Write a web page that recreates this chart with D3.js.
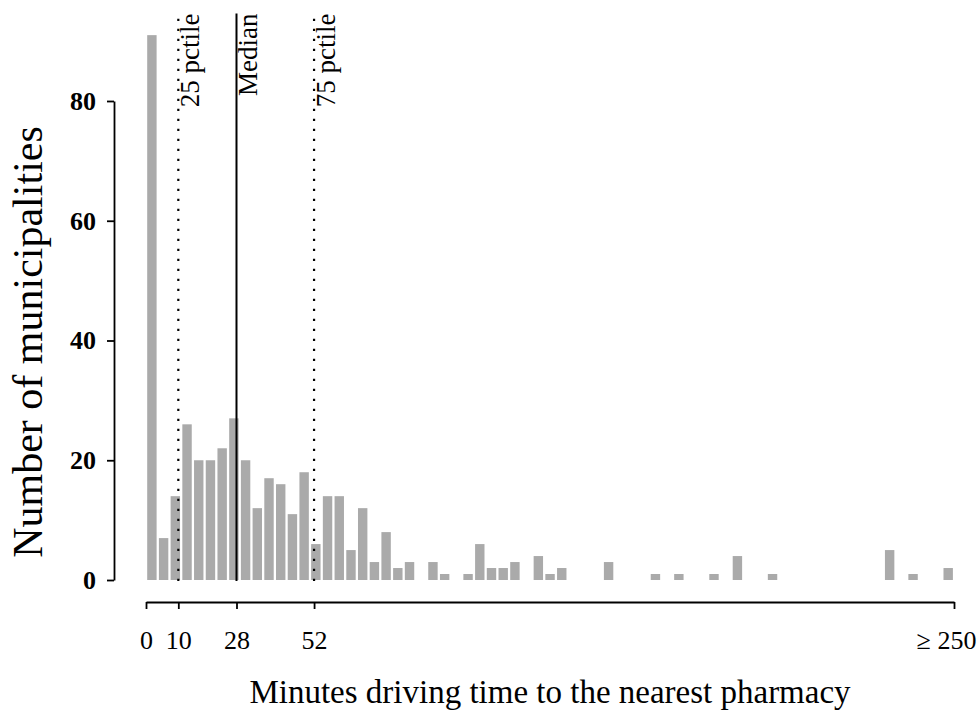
<!DOCTYPE html>
<html>
<head>
<meta charset="utf-8">
<script src="https://cdn.jsdelivr.net/npm/d3@7"></script>
<style>
  html, body { margin: 0; padding: 0; background: #fff; }
  svg { display: block; font-family: "Liberation Serif", "Times New Roman", serif; }
</style>
</head>
<body>
<svg id="chart" width="979" height="714"></svg>
<script>
// Histogram of driving time (minutes) to the nearest pharmacy, per municipality.
// 69 equal-width bins covering 0 to 250 minutes; the last bin collects everything >= 250.
const binCount = 69;
const counts = [
  91, 7, 14, 26, 20, 20, 22, 27, 20, 12,
  17, 16, 11, 18, 6, 14, 14, 5, 12, 3,
  8, 2, 3, 0, 3, 1, 0, 1, 6, 2,
  2, 3, 0, 4, 1, 2, 0, 0, 0, 3,
  0, 0, 0, 1, 0, 1, 0, 0, 1, 0,
  4, 0, 0, 1, 0, 0, 0, 0, 0, 0,
  0, 0, 0, 5, 0, 1, 0, 0, 2
];

// Distribution markers
const markerValues = [10, 28, 52];
const markerLabels = ["25 pctile", "Median", "75 pctile"];
const markerDashed = [true, false, true];

// Axis ticks
const xTickValues = [0, 10, 28, 52, 250];
const xTickLabels = ["0", "10", "28", "52", "\u2265 250"];
const yTickValues = [0, 20, 40, 60, 80];

const xTitle = "Minutes driving time to the nearest pharmacy";
const yTitle = "Number of municipalities";

const svg = d3.select("#chart");

const x = d3.scaleLinear().domain([0, 250]).range([146, 954]);
const y = d3.scaleLinear().domain([0, 80]).range([580, 101]);
const binWidth = 250 / binCount;
const plotTop = y(94.6);

// Bars
svg.append("g")
  .selectAll("rect")
  .data(counts)
  .join("rect")
  .attr("x", (d, i) => x(i * binWidth) + 1.2)
  .attr("width", x(binWidth) - x(0) - 2.3)
  .attr("y", d => y(d))
  .attr("height", d => y(0) - y(d))
  .attr("fill", "#aaaaaa");

// Percentile / median lines with rotated labels
const markers = svg.append("g");
markerValues.forEach((v, i) => {
  markers.append("line")
    .attr("x1", x(v)).attr("x2", x(v))
    .attr("y1", y(0) + 1).attr("y2", plotTop)
    .attr("stroke", "#000")
    .attr("stroke-width", markerDashed[i] ? 2.2 : 2)
    .attr("stroke-dasharray", markerDashed[i] ? "2.2,7.8" : null);
  markers.append("text")
    .attr("transform", `translate(${x(v) + 21},${plotTop}) rotate(-90)`)
    .attr("text-anchor", "end")
    .attr("font-size", 27)
    .text(markerLabels[i]);
});

// Y axis
const yAxis = svg.append("g")
  .attr("transform", "translate(114,0)")
  .call(d3.axisLeft(y).tickValues(yTickValues).tickSize(7).tickSizeOuter(0).tickPadding(11));
yAxis.selectAll("path, line").attr("stroke", "#000").attr("stroke-width", 1.8);
yAxis.selectAll("text")
  .attr("font-family", "Liberation Serif, serif")
  .attr("font-size", 26)
  .attr("font-weight", "bold")
  .attr("fill", "#000");

// X axis
const xAxis = svg.append("g")
  .attr("transform", "translate(0,602)")
  .call(d3.axisBottom(x).tickValues(xTickValues)
    .tickFormat((d, i) => xTickLabels[i])
    .tickSize(7).tickSizeOuter(0).tickPadding(22));
xAxis.selectAll("path, line").attr("stroke", "#000").attr("stroke-width", 1.8);
xAxis.selectAll("text")
  .attr("font-family", "Liberation Serif, serif")
  .attr("font-size", 26)
  .attr("fill", "#000")
  .attr("dx", (d, i) => i === xTickValues.length - 1 ? -8 : 0);

// Axis titles
svg.append("text")
  .attr("x", x(125))
  .attr("y", 703)
  .attr("text-anchor", "middle")
  .attr("font-size", 33)
  .text(xTitle);

svg.append("text")
  .attr("transform", "translate(42,342) rotate(-90)")
  .attr("text-anchor", "middle")
  .attr("font-size", 42)
  .text(yTitle);
</script>
</body>
</html>
